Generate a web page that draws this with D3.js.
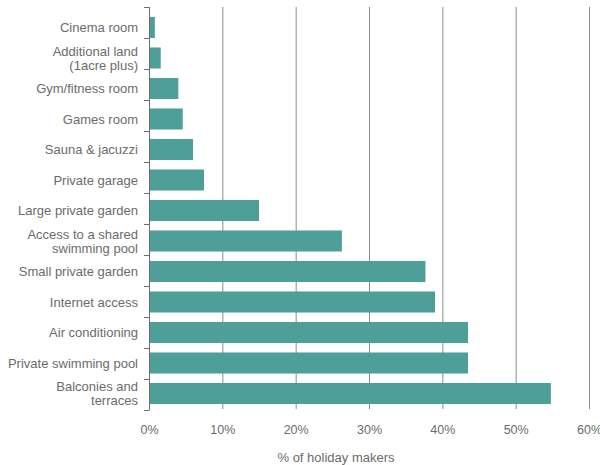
<!DOCTYPE html>
<meta charset="utf-8">
<style>
body { margin: 0; background: #fff; }
text { font-family: "Liberation Sans", Arial, sans-serif; fill: #6b6b6b; }
.bar { fill: #4f9f99; }
.grid line { stroke: #8c8c8c; stroke-width: 1px; }
.grid .domain { display: none; }
</style>
<body>
<script src="https://d3js.org/d3.v7.min.js"></script>
<script>

// data, top to bottom
var categories = ["Cinema room", "Additional land|(1acre plus)", "Gym/fitness room", "Games room",
  "Sauna & jacuzzi", "Private garage", "Large private garden", "Access to a shared|swimming pool",
  "Small private garden", "Internet access", "Air conditioning", "Private swimming pool",
  "Balconies and|terraces"];
var values = [0.8, 1.6, 4.0, 4.6, 6.0, 7.5, 15.0, 26.3, 37.7, 39.0, 43.5, 43.5, 54.8];
var xTicks = [0, 10, 20, 30, 40, 50, 60];
var xTitle = "% of holiday makers";

var margin = {top: 7, right: 11, bottom: 56, left: 149},
    width = 600 - margin.left - margin.right,
    height = 465 - margin.top - margin.bottom;

var svg = d3.select("body").append("svg")
    .attr("width", 600)
    .attr("height", 465)
  .append("g")
    .attr("transform", "translate(" + margin.left + "," + margin.top + ")");

var x = d3.scaleLinear().domain([0, 60]).range([0, width]);
var y = d3.scaleBand().domain(categories).range([0, height])
    .paddingInner(0.31).paddingOuter(0.245).align(0.667);

// vertical gridlines + % labels
var grid = svg.append("g")
    .attr("class", "grid")
    .attr("transform", "translate(0," + height + ")")
    .call(d3.axisBottom(x).tickValues(xTicks).tickSize(height).tickSizeOuter(0)
      .tickFormat(function(d) { return d + "%"; }));
grid.selectAll(".tick line").attr("y1", 0).attr("y2", -height);
grid.selectAll(".tick text")
    .attr("y", 16)
    .style("font-size", "12.5px")
    .style("fill", "#6b6b6b");
grid.selectAll(".tick").filter(function(d) { return d === 0; }).select("line").remove();

// bars
svg.selectAll(".bar")
    .data(values)
  .enter().append("rect")
    .attr("class", "bar")
    .attr("x", x(0))
    .attr("y", function(d, i) { return y(categories[i]); })
    .attr("width", function(d) { return x(d) - x(0); })
    .attr("height", y.bandwidth());

// left axis line with ticks between rows
var tickPos = d3.scaleLinear().domain([0, categories.length]).range([0, height + 1]);
svg.append("line")
    .attr("x1", 0.5).attr("x2", 0.5)
    .attr("y1", 0).attr("y2", height + 1)
    .style("stroke", "#6e6e6e");
svg.selectAll(".ytick")
    .data(d3.range(categories.length + 1))
  .enter().append("line")
    .attr("x1", -5).attr("x2", 0.5)
    .attr("y1", function(d) { return Math.round(tickPos(d)) + 0.5; })
    .attr("y2", function(d) { return Math.round(tickPos(d)) + 0.5; })
    .style("stroke", "#6e6e6e");

// category labels
var labels = svg.selectAll(".label")
    .data(categories)
  .enter().append("text")
    .attr("class", "label")
    .attr("text-anchor", "end")
    .style("font-size", "13px")
    .attr("transform", function(d) {
      return "translate(-11," + (y(d) + y.bandwidth() / 2) + ")";
    });
labels.each(function(d) {
  var lines = d.split("|");
  var t = d3.select(this);
  lines.forEach(function(l, i) {
    t.append("tspan")
      .attr("x", 0)
      .attr("y", (i - (lines.length - 1) / 2) * 14)
      .attr("dy", "0.35em")
      .text(l);
  });
});

// axis title
svg.append("text")
    .attr("x", x(25.5))
    .attr("y", height + 53)
    .attr("text-anchor", "middle")
    .style("font-size", "13px")
    .text(xTitle);

</script>
</body>
